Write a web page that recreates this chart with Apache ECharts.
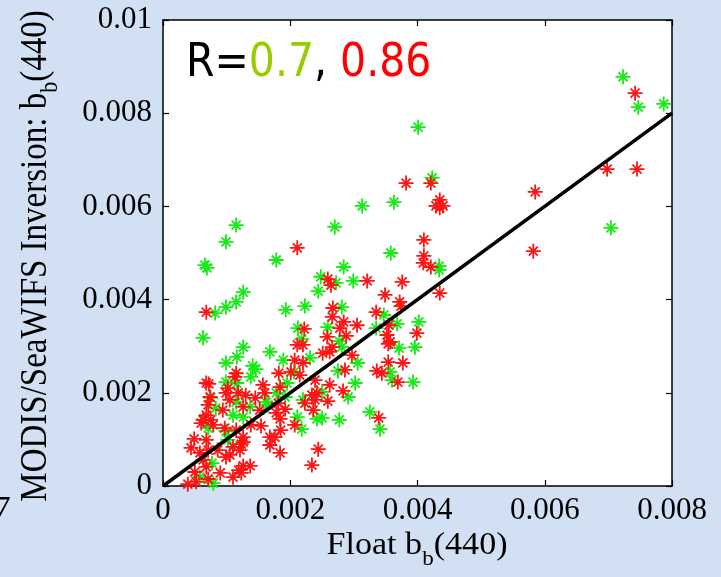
<!DOCTYPE html>
<html>
<head>
<meta charset="utf-8">
<script src="https://cdn.jsdelivr.net/npm/echarts@6/dist/echarts.min.js"></script>
<style>
  html, body { margin: 0; padding: 0; background: #d1e0f2; }
  #chart { width: 721px; height: 577px; }
</style>
</head>
<body>
<div id="chart"></div>
<script>
// Axis tick values
const xTickValues = [0, 0.002, 0.004, 0.006, 0.008];
const yTickValues = [0, 0.002, 0.004, 0.006, 0.008, 0.01];

// Correlation coefficients shown in the corner
const rGreen = '0.7';
const rRed = '0.86';

// Float b_b(440) vs. satellite inversion b_b(440): green set
const greenPts = [
  [0.00723,0.00878],[0.00747,0.00813],[0.00787,0.00820],[0.00704,0.00554],[0.00401,0.00770],[0.00423,0.00661],[0.00363,0.00609],[0.00313,0.00601],
  [0.00115,0.00560],[0.00099,0.00524],[0.00066,0.00474],[0.00069,0.00468],[0.00178,0.00485],[0.00270,0.00556],[0.00358,0.00500],[0.00284,0.00470],
  [0.00126,0.00416],[0.00115,0.00395],[0.00099,0.00384],[0.00082,0.00371],[0.00193,0.00378],[0.00248,0.00449],[0.00272,0.00436],[0.00299,0.00440],
  [0.00244,0.00418],[0.00223,0.00386],[0.00281,0.00384],[0.00347,0.00367],[0.00434,0.00472],[0.00434,0.00464],[0.00402,0.00352],[0.00368,0.00348],
  [0.00063,0.00318],[0.00126,0.00298],[0.00168,0.00288],[0.00116,0.00277],[0.00189,0.00270],[0.00099,0.00264],[0.00141,0.00258],[0.00146,0.00251],
  [0.00138,0.00234],[0.00099,0.00223],[0.00116,0.00221],[0.00195,0.00221],[0.00178,0.00200],[0.00075,0.00189],[0.00192,0.00191],[0.00115,0.00180],
  [0.00162,0.00180],[0.00083,0.00167],[0.00137,0.00170],[0.00165,0.00174],[0.00110,0.00152],[0.00126,0.00148],[0.00071,0.00124],[0.00099,0.00118],
  [0.00102,0.00099],[0.00077,0.00049],[0.00058,0.00019],[0.00079,0.00006],
  [0.00259,0.00341],[0.00212,0.00339],[0.00335,0.00339],[0.00218,0.00315],[0.00277,0.00311],[0.00281,0.00298],[0.00396,0.00298],[0.00371,0.00296],
  [0.00231,0.00275],[0.00306,0.00264],[0.00275,0.00247],[0.00357,0.00245],[0.00206,0.00245],[0.00360,0.00227],[0.00393,0.00223],[0.00302,0.00221],
  [0.00250,0.00202],[0.00291,0.00191],[0.00220,0.00185],[0.00325,0.00159],[0.00242,0.00144],[0.00250,0.00146],[0.00277,0.00142],[0.00211,0.00148],
  [0.00218,0.00122],[0.00341,0.00122]
];

// Red set
const redPts = [
  [0.00742,0.00843],[0.00698,0.00680],[0.00745,0.00680],[0.00585,0.00631],[0.00582,0.00504],[0.00382,0.00650],[0.00421,0.00650],[0.00435,0.00614],
  [0.00429,0.00601],[0.00440,0.00601],[0.00435,0.00597],[0.00410,0.00528],[0.00410,0.00494],[0.00409,0.00479],[0.00421,0.00470],[0.00376,0.00438],
  [0.00435,0.00414],[0.00372,0.00395],[0.00374,0.00386],[0.00399,0.00328],[0.00211,0.00511],[0.00068,0.00373],[0.00259,0.00444],[0.00264,0.00431],
  [0.00321,0.00440],[0.00349,0.00410],[0.00267,0.00382],[0.00335,0.00373],[0.00266,0.00363],[0.00284,0.00352],[0.00278,0.00339],[0.00305,0.00345],
  [0.00222,0.00337],[0.00355,0.00345],[0.00352,0.00324],[0.00288,0.00322],[0.00258,0.00320],[0.00357,0.00309],[0.00354,0.00305],[0.00211,0.00303],
  [0.00220,0.00303],[0.00266,0.00298],[0.00354,0.00266],[0.00377,0.00264],[0.00336,0.00247],[0.00344,0.00242],[0.00369,0.00223],
  [0.00251,0.00285],[0.00262,0.00288],[0.00297,0.00281],[0.00207,0.00270],[0.00220,0.00264],[0.00286,0.00249],[0.00215,0.00238],[0.00262,0.00217],
  [0.00239,0.00227],[0.00283,0.00204],[0.00242,0.00200],[0.00234,0.00195],[0.00239,0.00185],[0.00259,0.00182],[0.00223,0.00178],[0.00236,0.00163],
  [0.00339,0.00146],[0.00207,0.00131],[0.00244,0.00079],[0.00234,0.00045],
  [0.00115,0.00242],[0.00113,0.00234],[0.00182,0.00242],[0.00201,0.00245],[0.00068,0.00221],[0.00072,0.00219],[0.00157,0.00217],[0.00184,0.00212],
  [0.00102,0.00210],[0.00160,0.00200],[0.00099,0.00200],[0.00130,0.00195],[0.00118,0.00200],[0.00074,0.00191],[0.00145,0.00189],[0.00105,0.00185],
  [0.00181,0.00178],[0.00071,0.00174],[0.00126,0.00170],[0.00094,0.00163],[0.00192,0.00165],[0.00152,0.00163],[0.00068,0.00152],[0.00178,0.00157],
  [0.00184,0.00144],[0.00063,0.00142],[0.00075,0.00142],[0.00060,0.00135],[0.00079,0.00131],[0.00138,0.00131],[0.00154,0.00129],[0.00097,0.00124],
  [0.00115,0.00120],[0.00185,0.00120],[0.00168,0.00105],[0.00176,0.00105],[0.00068,0.00099],[0.00126,0.00105],[0.00126,0.00094],[0.00049,0.00101],
  [0.00168,0.00088],[0.00044,0.00082],[0.00123,0.00090],[0.00071,0.00077],[0.00086,0.00077],[0.00110,0.00084],[0.00121,0.00077],[0.00058,0.00071],
  [0.00184,0.00071],[0.00099,0.00062],[0.00105,0.00067],[0.00063,0.00056],[0.00068,0.00041],[0.00050,0.00030],[0.00090,0.00028],[0.00126,0.00043],
  [0.00137,0.00043],[0.00119,0.00034],[0.00110,0.00019],[0.00123,0.00028],[0.00071,0.00015],[0.00039,0.00004],[0.00052,0.00009]
];

// 1:1 reference line
const oneToOne = [[0, 0], [0.008, 0.008]];

const SERIF = '"Liberation Serif", "Times New Roman", serif';
const STAR = 'path://M0 -10 L0 10 M-10 0 L10 0 M-6 -6 L6 6 M-6 6 L6 -6';

function starSeries(name, data, color) {
  return {
    name, type: 'scatter', data,
    symbol: STAR, symbolSize: 15,
    itemStyle: { color: color, borderColor: color, borderWidth: 1.8, opacity: 1 },
    emphasis: { disabled: true },
    z: 3
  };
}

function axisPair(ticks, dims) {
  const min = ticks[0], max = ticks[ticks.length - 1], interval = ticks[1] - ticks[0];
  const base = {
    type: 'value', min, max, interval,
    axisLine: { show: true, onZero: false, lineStyle: { color: '#000', width: 1.5 } },
    axisTick: { show: true, inside: true, length: 6, lineStyle: { color: '#000', width: 1.2 } },
    splitLine: { show: false }
  };
  return [
    Object.assign({}, base, {
      position: dims[0],
      axisLabel: { color: '#000', fontFamily: SERIF, fontSize: 31, margin: dims[0] === 'left' ? 11 : 9 }
    }),
    Object.assign({}, base, { position: dims[1], axisLabel: { show: false } })
  ];
}

const chart = echarts.init(document.getElementById('chart'), null, { renderer: 'canvas' });

chart.setOption({
  backgroundColor: '#d1e0f2',
  animation: false,
  grid: {
    left: 163, top: 20, right: 49, bottom: 91,
    show: true, backgroundColor: '#ffffff', borderWidth: 0
  },
  xAxis: axisPair(xTickValues, ['bottom', 'top']),
  yAxis: axisPair(yTickValues, ['left', 'right']),
  series: [
    starSeries('green', greenPts, '#14ec14'),
    starSeries('red', redPts, '#ff1414'),
    {
      type: 'line', data: oneToOne, symbol: 'none', silent: true,
      lineStyle: { color: '#000', width: 3.5 }, z: 4
    }
  ],
  graphic: [
    {
      type: 'text', x: 186, y: 41, scaleY: 1.12, z: 10,
      style: {
        text: '{k|R=}{g|' + rGreen + '}{k|, }{r|' + rRed + '}',
        rich: {
          k: { fill: '#000000', fontFamily: 'DejaVu Sans', fontSize: 41 },
          g: { fill: '#99cc00', fontFamily: 'DejaVu Sans', fontSize: 41 },
          r: { fill: '#ff0000', fontFamily: 'DejaVu Sans', fontSize: 41 }
        }
      }
    },
    {
      type: 'text', x: 417, y: 530, scaleX: 1.1, z: 10,
      style: {
        text: '{n|Float b}{s|b}{n|(440)}',
        align: 'center',
        rich: {
          n: { fill: '#000', fontFamily: SERIF, fontSize: 31, lineHeight: 40, verticalAlign: 'top' },
          s: { fill: '#000', fontFamily: SERIF, fontSize: 21, lineHeight: 18, verticalAlign: 'bottom' }
        }
      }
    },
    {
      type: 'text', x: 40, y: 256, rotation: Math.PI / 2, scaleY: 1.18, z: 10,
      style: {
        text: '{n|MODIS/SeaWIFS Inversion: b}{s|b}{n|(440)}',
        align: 'center', verticalAlign: 'middle',
        rich: {
          n: { fill: '#000', fontFamily: SERIF, fontSize: 33, lineHeight: 40, verticalAlign: 'top' },
          s: { fill: '#000', fontFamily: SERIF, fontSize: 22, lineHeight: 18, verticalAlign: 'bottom' }
        }
      }
    },
    {
      type: 'text', x: -7, y: 494, scaleX: 1.15, z: 10,
      style: { text: '7', fill: '#000', fontFamily: SERIF, fontSize: 31 }
    }
  ]
});
</script>
</body>
</html>
